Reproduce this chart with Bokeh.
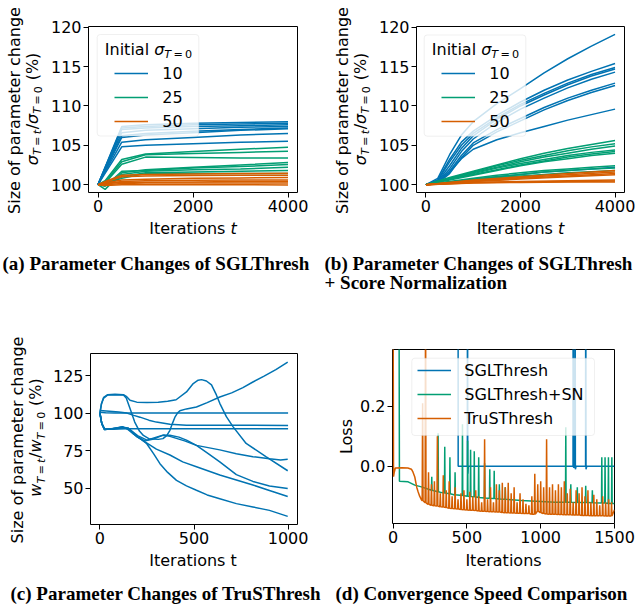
from math import pi
from bokeh.plotting import figure
from bokeh.layouts import column, row
from bokeh.models import (Label, BoxAnnotation, Legend, LegendItem, FixedTicker,
                          PrintfTickFormatter, Range1d)
from bokeh.embed import file_html
from bokeh.resources import INLINE

BLUE = "#0173B2"
GREEN = "#029E73"
ORANGE = "#D55E00"

# ---------------- data (a) SGLThresh ----------------
a_t_blue = [0, 500, 1000, 2000, 3000, 4000]
a_blue = [
    [100, 107.4, 107.6, 107.8, 107.9, 108.0],
    [100, 107.2, 107.4, 107.6, 107.7, 107.8],
    [100, 107.0, 107.2, 107.4, 107.5, 107.6],
    [100, 106.6, 106.9, 107.1, 107.3, 107.4],
    [100, 106.2, 106.5, 106.8, 107.0, 107.2],
    [100, 106.0, 106.3, 106.6, 106.9, 107.1],
    [100, 105.4, 105.7, 106.0, 106.3, 106.5],
    [100, 104.8, 105.0, 105.2, 105.4, 105.5],
]
a_t_other = [0, 150, 500, 1000, 2000, 3000, 4000]
a_green = [
    [100, 100.5, 103.2, 103.9, 104.2, 104.5, 104.75],
    [100, 100.3, 102.9, 103.8, 103.95, 104.1, 104.25],
    [100, 100.2, 102.6, 103.5, 103.45, 103.4, 103.4],
    [100, 99.4, 101.5, 101.9, 102.2, 102.5, 102.8],
    [100, 99.8, 101.7, 101.8, 102.1, 102.3, 102.55],
    [100, 100.0, 101.3, 101.7, 101.9, 102.0, 102.2],
    [100, 99.9, 101.0, 101.5, 101.6, 101.7, 101.8],
    [100, 100.1, 100.8, 101.4, 101.4, 101.4, 101.4],
]
a_orange = [
    [100, 100.4, 101.2, 101.3, 101.35, 101.4, 101.45],
    [100, 100.3, 101.0, 101.1, 101.15, 101.2, 101.2],
    [100, 100.2, 100.6, 100.7, 100.8, 100.85, 100.9],
    [100, 100.1, 100.4, 100.5, 100.55, 100.6, 100.6],
    [100, 100.1, 100.3, 100.3, 100.35, 100.4, 100.4],
    [100, 100.0, 100.15, 100.2, 100.2, 100.2, 100.2],
    [100, 99.9, 100.0, 100.0, 100.0, 100.0, 99.95],
]

# ---------------- data (b) SGLThresh + Score Normalization ----------------
b_t_blue = [0, 250, 500, 750, 1000, 1500, 2000, 2500, 3000, 3500, 4000]
b_blue = [
    [100, 100.8, 103.8, 106.3, 108.0, 110.3, 112.2, 114.2, 116.0, 117.6, 119.1],
    [100, 100.6, 103.2, 105.4, 106.8, 108.8, 110.5, 112.0, 113.3, 114.4, 115.4],
    [100, 100.5, 102.9, 105.0, 106.5, 108.5, 110.2, 111.6, 112.9, 114.0, 114.9],
    [100, 100.4, 102.4, 104.6, 106.2, 108.3, 110.0, 111.4, 112.7, 113.8, 114.7],
    [100, 100.3, 102.0, 104.2, 105.8, 107.9, 109.6, 111.0, 112.3, 113.4, 114.3],
    [100, 100.3, 101.7, 103.7, 105.3, 107.0, 108.4, 109.8, 111.0, 112.0, 112.9],
    [100, 100.2, 101.4, 103.4, 105.0, 106.7, 108.1, 109.5, 110.7, 111.7, 112.6],
    [100, 100.2, 101.6, 103.3, 104.5, 105.7, 106.6, 107.4, 108.2, 108.9, 109.6],
    [100, 100.1, 100.3, 100.5, 100.7, 101.0, 101.3, 101.6, 101.8, 102.0, 102.2],
]
b_t_green = [0, 500, 1000, 1500, 2000, 2500, 3000, 3500, 4000]
b_green = [
    [100, 100.9, 101.7, 102.5, 103.3, 104.0, 104.6, 105.1, 105.6],
    [100, 100.8, 101.6, 102.4, 103.1, 103.7, 104.3, 104.8, 105.2],
    [100, 100.8, 101.5, 102.2, 102.9, 103.5, 104.0, 104.5, 104.9],
    [100, 100.7, 101.4, 102.1, 102.7, 103.2, 103.7, 104.1, 104.4],
    [100, 100.7, 101.3, 101.9, 102.5, 103.0, 103.5, 103.9, 104.2],
    [100, 100.6, 101.2, 101.8, 102.4, 102.9, 103.3, 103.7, 104.0],
    [100, 100.4, 100.8, 101.2, 101.5, 101.8, 102.0, 102.2, 102.4],
    [100, 100.35, 100.7, 101.0, 101.3, 101.6, 101.8, 102.0, 102.1],
    [100, 100.3, 100.6, 100.9, 101.1, 101.3, 101.5, 101.65, 101.8],
]
b_t_orange = [0, 1000, 2000, 3000, 4000]
b_orange = [
    [100, 100.6, 101.0, 101.4, 101.8],
    [100, 100.5, 100.9, 101.25, 101.6],
    [100, 100.45, 100.8, 101.1, 101.4],
    [100, 100.4, 100.7, 101.0, 101.25],
    [100, 100.3, 100.4, 100.5, 100.6],
    [100, 100.25, 100.35, 100.4, 100.45],
    [100, 100.2, 100.28, 100.32, 100.35],
]

# ---------------- data (c) TruSThresh ----------------
c1_t = [0, 30, 80, 140, 1000]
c1_v = [100.5, 100.2, 100.1, 100.0, 100.0]
c2_t = [0, 50, 100, 143, 180, 213, 260, 300, 372, 460, 1000]
c2_v = [101.8, 101.3, 100.7, 100.0, 98.5, 97.3, 95.3, 94.0, 92.6, 91.9, 91.8]
c3_t = [0, 8, 20, 40, 80, 125, 140, 160, 196, 250, 310, 360, 405, 460, 496, 522, 540,
        566, 593, 619, 637, 672, 707, 777, 884, 998]
c3_v = [100, 106, 110.5, 112.2, 112.5, 112.3, 111.2, 108.5, 107.3, 107.0, 107.3, 107.9,
        108.9, 114.1, 119.7, 121.9, 122.3, 121.4, 118.8, 112.1, 106.5, 97.6, 91.0, 79.8,
        70.9, 61.6]
c4_t = [0, 8, 20, 40, 80, 125, 140, 160, 185, 210, 231, 260, 284, 310, 335, 355, 372,
        385, 398, 412, 425, 460, 513, 570, 637, 700, 760, 813, 870, 935, 998]
c4_v = [100, 106, 110, 112, 112.3, 112, 110, 103, 94, 88, 85.1, 83, 82.7, 82.5, 83, 85,
        88.5, 93, 97.1, 100, 101.6, 102.8, 104.1, 107, 110.7, 113.5, 117, 120.7, 124.5,
        129, 134]
c5_t = [0, 10, 25, 60, 140, 1000]
c5_v = [100, 93, 89.5, 89.3, 89.6, 89.6]
c6_t = [0, 10, 25, 60, 120, 150, 200, 250, 300, 340, 372, 450, 513, 637, 725, 813, 901,
        960, 998]
c6_v = [100, 93, 89.2, 89.3, 90.3, 90, 85, 82, 84, 85.5, 84.5, 81.5, 78.5, 75.5, 72.9,
        71, 69.6, 68.8, 69.2]
c7_t = [0, 10, 25, 60, 120, 150, 200, 240, 280, 330, 372, 420, 460, 513, 570, 637, 725,
        813, 901, 998]
c7_v = [100, 93, 89, 89.4, 90.8, 90, 84, 81.5, 82.5, 85, 85.3, 84, 82, 78.5, 73.5, 67.5,
        59, 54.5, 51.5, 49.8]
c8_t = [0, 10, 25, 60, 120, 150, 175, 200, 250, 300, 372, 440, 513, 637, 725, 813, 901, 998]
c8_v = [100, 93, 89, 89.5, 91, 89, 86.5, 84, 80, 76, 72.1, 67.5, 64.3, 58.8, 55.5, 52.1,
        48.5, 44.4]
c9_t = [0, 10, 25, 60, 120, 140, 160, 180, 215, 249, 285, 319, 360, 407, 460, 513, 570,
        637, 725, 813, 901, 998]
c9_v = [100, 93, 89, 89.6, 90.5, 90, 88.5, 86, 83, 79.6, 73, 66.3, 60.5, 55.2, 51.5,
        48.6, 45.5, 43.0, 39.7, 37.5, 35.2, 31.2]

# ---------------- data (d) convergence (loss) ----------------
d_blue_t = [0, 440, 441, 503, 504, 506, 510, 1219, 1220, 1223, 1232, 1233, 1235, 1240,
            1304, 1305, 1307, 1312, 1500]
d_blue_v = [1.0, 1.0, 0.0, 0.0, 1.0, -0.025, 0.0, 0.0, 1.0, -0.005, 0.0, 1.0, -0.01, 0.0,
            0.0, 1.0, -0.01, 0.0, 0.0]
d_green_base_t = [0, 40, 43, 102, 147, 192, 260, 328, 418, 531, 644, 870, 1097, 1323, 1500]
d_green_base_v = [0.6, 0.6, -0.05, -0.052, -0.063, -0.069, -0.08, -0.088, -0.096, -0.101,
                  -0.107, -0.114, -0.12, -0.121, -0.124]
d_green_spk_t = [262, 305, 350, 385, 420, 470, 505, 525, 550, 580, 620, 655, 685, 720, 760,
                 1170, 1204, 1248, 1305, 1350, 1414, 1436, 1459, 1482]
d_green_spk_foot = [-0.08, -0.085, -0.089, -0.092, -0.095, -0.098, -0.1, -0.101, -0.102,
                    -0.104, -0.106, -0.107, -0.108, -0.109, -0.11, -0.12, -0.12, -0.121,
                    -0.121, -0.122, -0.123, -0.123, -0.124, -0.124]
d_green_spk_top = [-0.035, 0.11, 0.065, 0.03, -0.02, 0.14, 0.085, 0.055, 0.05, 0.03, 0.01,
                   -0.01, -0.015, -0.06, -0.07, 0.13, -0.06, -0.07, -0.065, -0.08, 0.03,
                   0.03, 0.03, 0.03]
d_or_start_t = [0, 3, 8, 15, 60, 100, 124, 135, 147, 160, 170, 180, 190]
d_or_start_v = [0.6, -0.035, -0.02, -0.006, -0.005, -0.006, -0.01, -0.02, -0.036, -0.07,
                -0.086, -0.1, -0.11]
d_or_spk_t = [200, 220, 240, 260, 280, 300, 320, 340, 360, 380, 400, 420, 440, 460, 480,
              500, 520, 540, 560, 580, 600, 620, 640, 660, 680, 700, 720, 740, 760, 780,
              800, 820, 840, 860, 880, 900, 920, 940, 960, 980, 1000, 1020, 1040, 1060,
              1080, 1100, 1120, 1140, 1160, 1180, 1200, 1220, 1240, 1260, 1280, 1300, 1320,
              1340, 1360, 1380, 1400, 1420, 1440, 1460, 1480]
d_or_spk_top = [0.21, 0.6, -0.02, -0.06, -0.05, 0.1, -0.09, -0.03, -0.08, -0.05, -0.1,
                -0.07, -0.11, -0.09, -0.08, -0.11, -0.085, -0.1, -0.08, -0.1, -0.12, 0.09,
                -0.11, -0.07, -0.12, -0.06, -0.08, -0.055, -0.07, -0.055, -0.09, -0.07,
                -0.12, -0.09, -0.11, -0.125, -0.13, -0.1, -0.025, -0.06, -0.05, -0.07, 0.09,
                -0.07, -0.06, -0.08, -0.06, -0.07, -0.05, -0.09, -0.075, -0.12, -0.08, -0.09,
                -0.07, -0.1, -0.08, -0.12, -0.095, -0.11, -0.13, -0.1, -0.12, -0.11, -0.12]
d_or_spk_foot = [-0.115, -0.122, -0.127, -0.13, -0.132, -0.133, -0.135, -0.136, -0.138,
                 -0.14, -0.141, -0.142, -0.143, -0.144, -0.145, -0.146, -0.147, -0.147,
                 -0.148, -0.149, -0.15, -0.15, -0.151, -0.152, -0.152, -0.153, -0.153,
                 -0.154, -0.155, -0.155, -0.156, -0.156, -0.157, -0.157, -0.158, -0.158,
                 -0.158, -0.16, -0.16, -0.15, -0.155, -0.158, -0.159, -0.16, -0.16, -0.16,
                 -0.161, -0.161, -0.162, -0.162, -0.162, -0.163, -0.163, -0.163, -0.164,
                 -0.164, -0.164, -0.165, -0.165, -0.165, -0.165, -0.165, -0.166, -0.166,
                 -0.166]
d_or_end_t = [1500]
d_or_end_v = [-0.145]

# ---------------- text metrics (DejaVu Sans advance widths, em) ----------------
W = {' ': 0.318, '(': 0.390, ')': 0.390, '%': 0.950, '/': 0.337, '0': 0.636, '=': 0.838,
     'I': 0.295, 'T': 0.611, 'a': 0.613, 'e': 0.615, 'i': 0.278, 'l': 0.278, 'n': 0.634,
     'o': 0.612, 'r': 0.411, 's': 0.521, 't': 0.392, 'w': 0.818, 'σ': 0.635}


def tw(s, size):
    return sum(W.get(c, 0.6) for c in s) * size


FS = 16
SS = 11.2
G = 2.2
BASE_FIX = 0.38   # Bokeh places the label's baseline about 0.38 em below the anchor


def chart_fig(ox, oy, w, h, fl, fr, ft, fb, xr, yr, xticks, yticks, yfmt=None):
    p = figure(width=w, height=h, x_range=Range1d(*xr), y_range=Range1d(*yr),
               output_backend="svg", toolbar_location=None, tools="",
               min_border_left=fl - ox, min_border_right=ox + w - fr,
               min_border_top=ft - oy, min_border_bottom=oy + h - fb)
    p.title.visible = False
    p.xgrid.visible = False
    p.ygrid.visible = False
    p.outline_line_color = "black"
    p.outline_line_width = 1
    p.outline_line_alpha = 1.0
    for ax in (p.xaxis[0], p.yaxis[0]):
        ax.axis_line_color = None
        ax.major_tick_line_color = "black"
        ax.major_tick_line_width = 1
        ax.major_tick_out = 5
        ax.major_tick_in = 0
        ax.minor_tick_line_color = None
        ax.major_label_text_font = "DejaVu Sans"
        ax.major_label_text_font_size = "16px"
        ax.major_label_text_color = "black"
        ax.major_label_standoff = 2
    p.xaxis[0].ticker = FixedTicker(ticks=xticks, minor_ticks=[])
    p.yaxis[0].ticker = FixedTicker(ticks=yticks, minor_ticks=[])
    if yfmt:
        p.yaxis[0].formatter = PrintfTickFormatter(format=yfmt)
    return dict(p=p, ox=ox, oy=oy, FL=fl - ox, FB=fb - oy)


def text_fig(ox, oy, w, h):
    p = figure(width=w, height=h, x_range=Range1d(0, w), y_range=Range1d(0, h),
               x_axis_type=None, y_axis_type=None, output_backend="svg",
               toolbar_location=None, tools="", min_border_left=0, min_border_right=0,
               min_border_top=0, min_border_bottom=0)
    p.title.visible = False
    p.outline_line_color = None
    return dict(p=p, ox=ox, oy=oy, FL=0, FB=h)


def put(F, px, py, text, size=FS, style="normal", angle=0.0, align="left",
        font="DejaVu Sans"):
    d = BASE_FIX * size
    if angle == 0.0:
        py -= d
    else:
        px -= d
    F["p"].add_layout(Label(x=px - F["ox"] - F["FL"], y=F["FB"] - (py - F["oy"]),
                            x_units="screen", y_units="screen",
                            text=text, angle=angle, text_align=align,
                            text_baseline="alphabetic", text_font=font,
                            text_font_size=f"{size}px", text_font_style=style,
                            text_color="black"))


def seq(F, px, py, pieces, vertical=False):
    pos = 0.0
    for text, size, style, shift, gap in pieces:
        pos += gap
        if vertical:
            put(F, px + shift, py - pos, text, size, style, angle=pi / 2)
        else:
            put(F, px + pos, py + shift, text, size, style)
        pos += tw(text, size)
    return pos


def frac_pieces(sym, sh):
    return [(sym, FS, "italic", 0, 0), ("T", SS, "italic", sh, 0), ("=", SS, "normal", sh, G),
            ("t", SS, "italic", sh, G), ("/", FS, "normal", 0, 0.6), (sym, FS, "italic", 0, 0),
            ("T", SS, "italic", sh, 0), ("=", SS, "normal", sh, G), ("0", SS, "normal", sh, G),
            ("(%)", FS, "normal", 0, 0.6 + tw(" ", FS))]


def plen(pieces):
    return sum(g + tw(t, s) for t, s, st, sh, g in pieces)


def box(F, x0, y0, x1, y1):
    l = x0 - F["ox"] - F["FL"]
    r = x1 - F["ox"] - F["FL"]
    t = F["FB"] - (y0 - F["oy"])
    b = F["FB"] - (y1 - F["oy"])
    F["p"].add_layout(BoxAnnotation(left=l, right=r, top=t, bottom=b, left_units="screen",
                                    right_units="screen", top_units="screen",
                                    bottom_units="screen", fill_color="white",
                                    fill_alpha=0.8, line_color="#cccccc", line_width=1,
                                    border_radius=3))


def legend(F, gx, row1, items, standoff):
    top_local = row1 - 10 - F["oy"]
    n = len(items)
    height = n * 20 + (n - 1) * 4
    lx = gx - F["ox"] - F["FL"]
    ly = F["FB"] - (top_local + height)
    lg = Legend(items=[LegendItem(label=lab, renderers=[r]) for lab, r in items],
                location=(lx, ly), padding=0, margin=0, spacing=4, glyph_width=34,
                glyph_height=20, label_height=20, label_standoff=standoff,
                label_text_font="DejaVu Sans", label_text_font_size="16px",
                label_text_color="black", background_fill_alpha=0.0,
                border_line_color=None)
    F["p"].add_layout(lg, "center")


def caption(F, px, py, text):
    put(F, px, py, text, size=19, style="bold", font="Liberation Serif")


title_pcs = [("Initial", FS, "normal", 0, 0), ("σ", FS, "italic", 0, tw(" ", FS)),
             ("T", SS, "italic", 3.5, 0), ("=", SS, "normal", 3.5, G), ("0", SS, "normal", 3.5, G)]
xl_it = [("Iterations", FS, "normal", 0, 0), ("t", FS, "italic", 0, tw(" ", FS))]

# ---------------- panel (a) ----------------
YA = text_fig(0, 0, 46, 219)
A = chart_fig(46, 0, 276, 219, 88, 297, 26, 192, (-200, 4200), (99.0, 120.1),
              [0, 2000, 4000], [100, 105, 110, 115, 120])
XA = text_fig(0, 219, 322, 81)
pa = A["p"]
ra_b = pa.multi_line([a_t_blue] * len(a_blue), a_blue, line_color=BLUE, line_width=1.5)
ra_g = pa.multi_line([a_t_other] * len(a_green), a_green, line_color=GREEN, line_width=1.5)
ra_o = pa.multi_line([a_t_other] * len(a_orange), a_orange, line_color=ORANGE, line_width=1.5)
put(YA, 20, 110, "Size of parameter change", angle=pi / 2, align="center")
pcs = frac_pieces("σ", 4.0)
seq(YA, 37.6, 108.4 + plen(pcs) / 2, pcs, vertical=True)
seq(XA, 192.5 - plen(xl_it) / 2, 234, xl_it)
caption(XA, 2, 270, "(a) Parameter Changes of SGLThresh")
box(A, 96.7, 34, 198.3, 135.5)
seq(A, 104.3, 54.7, title_pcs)
legend(A, 114.3, 73, [("10", ra_b), ("25", ra_g), ("50", ra_o)], 14)

# ---------------- panel (b) ----------------
YB = text_fig(322, 0, 52, 219)
B = chart_fig(374, 0, 270, 219, 416, 624, 26, 192, (-200, 4200), (99.0, 120.1),
              [0, 2000, 4000], [100, 105, 110, 115, 120])
XB = text_fig(322, 219, 322, 81)
pb = B["p"]
rb_b = pb.multi_line([b_t_blue] * len(b_blue), b_blue, line_color=BLUE, line_width=1.5)
rb_g = pb.multi_line([b_t_green] * len(b_green), b_green, line_color=GREEN, line_width=1.5)
rb_o = pb.multi_line([b_t_orange] * len(b_orange), b_orange, line_color=ORANGE, line_width=1.5)
put(YB, 348, 110, "Size of parameter change", angle=pi / 2, align="center")
seq(YB, 365.6, 108.4 + plen(pcs) / 2, pcs, vertical=True)
seq(XB, 520 - plen(xl_it) / 2, 234, xl_it)
caption(XB, 324, 270, "(b) Parameter Changes of SGLThresh")
caption(XB, 324, 289, "+ Score Normalization")
box(B, 423.7, 34.5, 525.3, 135.7)
seq(B, 431.3, 54.7, title_pcs)
legend(B, 441.3, 73, [("10", rb_b), ("25", rb_g), ("50", rb_o)], 14)

# ---------------- panel (c) ----------------
YC = text_fig(0, 300, 49, 251)
C = chart_fig(49, 300, 273, 251, 88, 297, 353, 524, (-50, 1050), (25.8, 139.7),
              [0, 500, 1000], [50, 75, 100, 125])
XC = text_fig(0, 551, 322, 57)
pc = C["p"]
for tt, vv in ((c1_t, c1_v), (c2_t, c2_v), (c3_t, c3_v), (c4_t, c4_v), (c5_t, c5_v),
               (c6_t, c6_v), (c7_t, c7_v), (c8_t, c8_v), (c9_t, c9_v)):
    pc.line(tt, vv, line_color=BLUE, line_width=1.5)
put(YC, 23.5, 439.5, "Size of parameter change", angle=pi / 2, align="center")
pcs_c = frac_pieces("w", 4.0)
seq(YC, 41, 437 + plen(pcs_c) / 2, pcs_c, vertical=True)
put(XC, 192.5, 566, "Iterations t", align="center")
caption(XC, 10, 600, "(c) Parameter Changes of TruSThresh")

# ---------------- panel (d) ----------------
YD = text_fig(322, 300, 35, 251)
D = chart_fig(357, 300, 287, 251, 392, 614, 349, 523, (-4, 1500), (-0.191, 0.389),
              [0, 500, 1000, 1500], [0.0, 0.2], yfmt="%.1f")
XD = text_fig(322, 551, 322, 57)
pd_ = D["p"]

g_pts = list(zip(d_green_base_t, d_green_base_v))
for t, f, v in zip(d_green_spk_t, d_green_spk_foot, d_green_spk_top):
    g_pts += [(t - 2, f), (t, v), (t + 2, f)]
g_pts.sort(key=lambda q: q[0])
o_pts = list(zip(d_or_start_t, d_or_start_v))
for t, f, v in zip(d_or_spk_t, d_or_spk_foot, d_or_spk_top):
    o_pts += [(t - 3, f), (t, v), (t + 3, f)]
o_pts += list(zip(d_or_end_t, d_or_end_v))

rd_b = pd_.line(d_blue_t, d_blue_v, line_color=BLUE, line_width=1.5)
rd_g = pd_.line([q[0] for q in g_pts], [q[1] for q in g_pts], line_color=GREEN, line_width=1.5)
rd_o = pd_.line([q[0] for q in o_pts], [q[1] for q in o_pts], line_color=ORANGE, line_width=1.5)

box(D, 411.3, 357.7, 594, 435)
legend(D, 417.3, 370, [("SGLThresh", rd_b), ("SGLThresh+SN", rd_g), ("TruSThresh", rd_o)], 13)
put(YD, 352, 436, "Loss", angle=pi / 2, align="center")
put(XD, 503, 566, "Iterations", align="center")
caption(XD, 335, 600, "(d) Convergence Speed Comparison")


def block(Y, Cf, X):
    # each figure wrapped in its own column so row/column do not align plot frames
    return column(row(column(Y["p"]), column(Cf["p"])), column(X["p"]))


layout = column(
    row(block(YA, A, XA), block(YB, B, XB)),
    row(block(YC, C, XC), block(YD, D, XD)),
)
open("out.html", "w").write(file_html(layout, INLINE))
